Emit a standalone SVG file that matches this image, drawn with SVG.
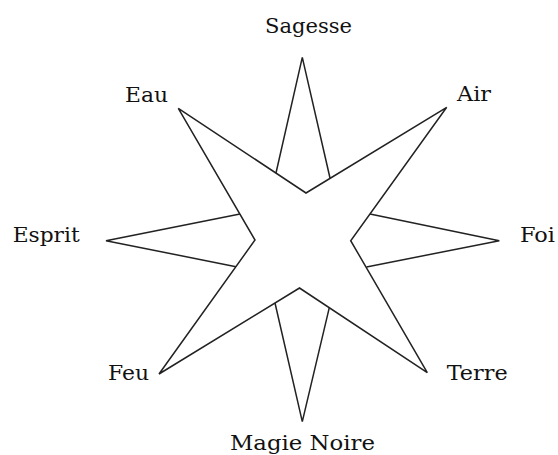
<svg xmlns="http://www.w3.org/2000/svg" width="558" height="455" viewBox="0 0 558 455">
<style>
.edge{fill:none;stroke:#222;stroke-width:1.5;stroke-linejoin:miter}
.lbl{font-family:"DejaVu Serif","Liberation Serif",serif;font-size:20px;fill:#111}
</style>
<rect width="558" height="455" fill="#fff"/>
<g id="connectors">
<polygon class="edge" fill="#fff" points="178.3,108.3 306,193 446.7,107.3 350.7,240.7 427.3,372.7 299.5,288 159,374 255,240"/>
<polyline class="edge" points="276,173 302.3,57.3 330,178"/>
<polyline class="edge" points="370,214 499.3,240.7 366.5,267"/>
<polyline class="edge" points="275,303 302.3,421.7 329.3,307.7"/>
<polyline class="edge" points="240,214 106,240.7 236,266.7"/>
</g>
<g id="sagesse"><text class="lbl" x="265" y="33" textLength="87" lengthAdjust="spacingAndGlyphs">Sagesse</text></g>
<g id="air"><text class="lbl" x="457" y="101" textLength="34" lengthAdjust="spacingAndGlyphs">Air</text></g>
<g id="foi"><text class="lbl" x="520" y="241.7" textLength="35" lengthAdjust="spacingAndGlyphs">Foi</text></g>
<g id="terre"><text class="lbl" x="446.7" y="380" textLength="61" lengthAdjust="spacingAndGlyphs">Terre</text></g>
<g id="magie-noire"><text class="lbl" x="230" y="450" textLength="145" lengthAdjust="spacingAndGlyphs">Magie Noire</text></g>
<g id="feu"><text class="lbl" x="108" y="380" textLength="41" lengthAdjust="spacingAndGlyphs">Feu</text></g>
<g id="esprit"><text class="lbl" x="12.7" y="242" textLength="67" lengthAdjust="spacingAndGlyphs">Esprit</text></g>
<g id="eau"><text class="lbl" x="125" y="101.7" textLength="43" lengthAdjust="spacingAndGlyphs">Eau</text></g>
</svg>
